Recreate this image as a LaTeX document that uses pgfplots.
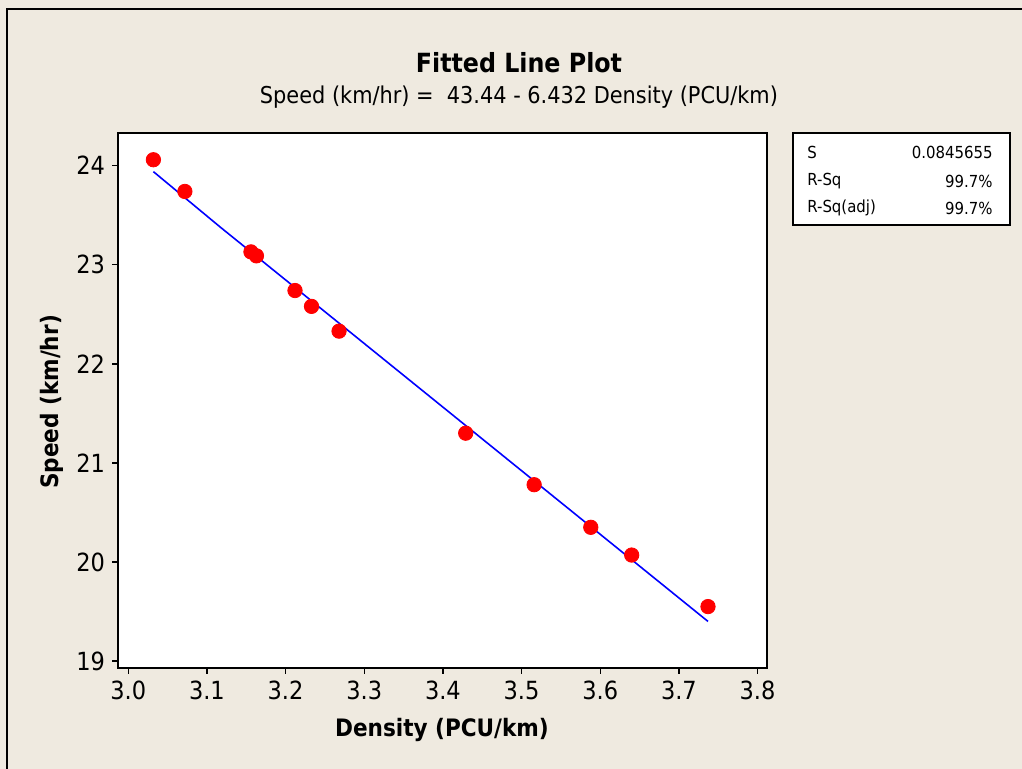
\documentclass[border=0pt]{standalone}
\usepackage{fontspec}
\setmainfont{DejaVu Sans Condensed}
\usepackage{pgfplots}
\pgfplotsset{compat=1.18}

\definecolor{bgpanel}{RGB}{239,234,224}

\begin{document}
\begin{tikzpicture}
% page is 1022x769 px at 2 px per pt
\useasboundingbox (0,0) rectangle (511pt,384.5pt);
\fill[bgpanel] (0,0) rectangle (511pt,384.5pt);
\draw[black, line width=1.2pt] (3.5pt,0) -- (3.5pt,380pt) -- (511pt,380pt);

\begin{axis}[
    at={(59pt,50.5pt)}, anchor=south west,
    scale only axis,
    width=324.5pt, height=267.5pt,
    xmin=2.987, xmax=3.812,
    ymin=18.93, ymax=24.33,
    xtick={3.0,3.1,...,3.8},
    ytick={19,20,...,24},
    xticklabel style={/pgf/number format/.cd, fixed, fixed zerofill, precision=1},
    tick align=outside, tick pos=left,
    major tick length=3pt,
    every tick/.style={black, line width=0.7pt},
    axis line style={line width=1pt},
    axis background/.style={fill=white},
    tick label style={font=\fontsize{12.5}{14}\selectfont},
    /pgf/number format/assume math mode=true,
    clip=false,
]
% fitted line
\addplot[blue, line width=0.8pt, no marks] coordinates {
    (3.032, 23.94) (3.117, 23.38) (3.737, 19.40)
};
% observations
\addplot[only marks, mark=*, mark size=3.6pt, red, mark options={fill=red, draw=red}] coordinates {
    (3.032, 24.06) (3.072, 23.74) (3.156, 23.13) (3.163, 23.09)
    (3.212, 22.74) (3.233, 22.58) (3.268, 22.33) (3.429, 21.30)
    (3.516, 20.78) (3.588, 20.35) (3.640, 20.07) (3.737, 19.55)
};
\end{axis}

% titles
\node[font=\fontsize{13.2}{15}\selectfont\bfseries] at (259.5pt,353pt) {Fitted Line Plot};
\node[font=\fontsize{11.6}{14}\selectfont] at (259.5pt,336pt) {Speed (km/hr) =\ \ 43.44 - 6.432 Density (PCU/km)};
\node[font=\fontsize{12}{14}\selectfont\bfseries] at (221pt,19.5pt) {Density (PCU/km)};
\node[font=\fontsize{12}{14}\selectfont\bfseries, rotate=90] at (26pt,183.5pt) {Speed (km/hr)};

% summary box
\draw[black, line width=0.7pt, fill=white] (396.5pt,318pt) rectangle (505pt,272pt);
\begin{scope}[every node/.style={font=\fontsize{8.3}{10}\selectfont, inner sep=0pt}]
\node[anchor=west] at (403.5pt,308.5pt) {S};
\node[anchor=east] at (496.5pt,308.5pt) {0.0845655};
\node[anchor=west] at (403.5pt,294pt) {R-Sq};
\node[anchor=east] at (496.5pt,294pt) {99.7\%};
\node[anchor=west] at (403.5pt,280.5pt) {R-Sq(adj)};
\node[anchor=east] at (496.5pt,280.5pt) {99.7\%};
\end{scope}
\end{tikzpicture}
\end{document}
